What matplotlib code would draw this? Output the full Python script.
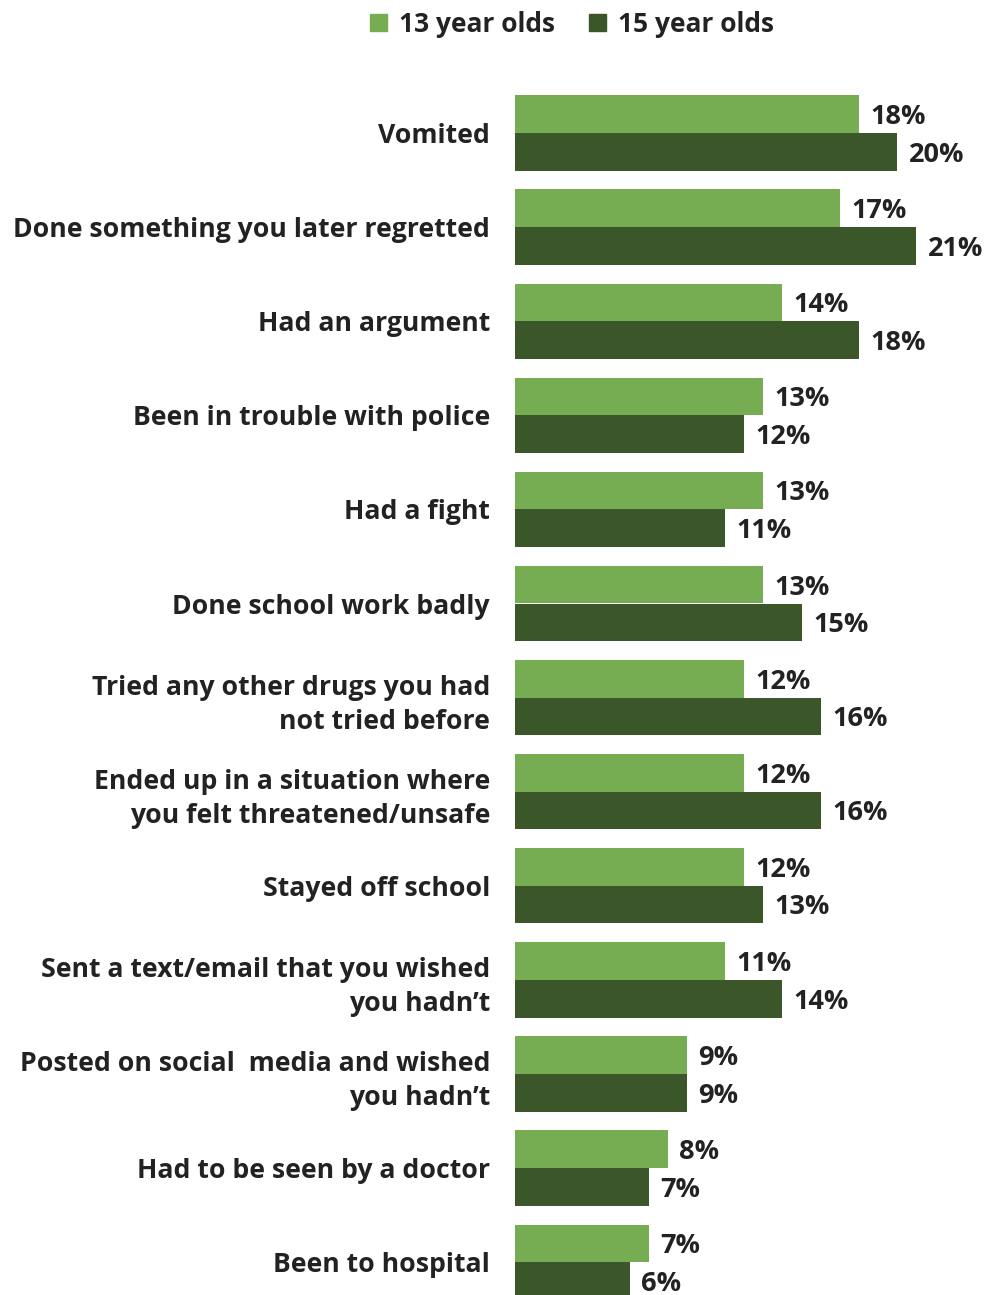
import matplotlib.pyplot as plt
from matplotlib.patches import Patch

# data
categories = [
    "Vomited",
    "Done something you later regretted",
    "Had an argument",
    "Been in trouble with police",
    "Had a fight",
    "Done school work badly",
    "Tried any other drugs you had\nnot tried before",
    "Ended up in a situation where\nyou felt threatened/unsafe",
    "Stayed off school",
    "Sent a text/email that you wished\nyou hadn\u2019t",
    "Posted on social  media and wished\nyou hadn\u2019t",
    "Had to be seen by a doctor",
    "Been to hospital",
]
age13 = [18, 17, 14, 13, 13, 13, 12, 12, 12, 11, 9, 8, 7]
age15 = [20, 21, 18, 12, 11, 15, 16, 16, 13, 14, 9, 7, 6]
series_names = ["13 year olds", "15 year olds"]

light = "#76ad52"
dark = "#3b5628"
txt = "#222222"

plt.rcParams['font.family'] = ['Open Sans', 'DejaVu Sans']

fig = plt.figure(figsize=(9.85, 12.95), dpi=100)
ax = fig.add_axes([515 / 985, 0, 470 / 985, 1235 / 1295])

h = 0.4
ys = list(range(len(categories)))
ax.barh([y - h / 2 for y in ys], age13, height=h, color=light)
ax.barh([y + h / 2 for y in ys], age15, height=h, color=dark)

for y, a, b in zip(ys, age13, age15):
    ax.text(a + 0.6, y - h / 2 + 0.03, f"{a}%", va="center", ha="left",
            fontsize=19.5, fontweight="bold", color=txt)
    ax.text(b + 0.6, y + h / 2 + 0.03, f"{b}%", va="center", ha="left",
            fontsize=19.5, fontweight="bold", color=txt)

ax.set_xlim(0, 470 / 19.1)
ax.set_ylim(1162 / 94.1, -73 / 94.1)
ax.set_yticks(ys)
ax.set_yticklabels(categories, fontsize=19.2, fontweight="bold", color=txt,
                   ha="right", linespacing=1.4)
ax.tick_params(axis="y", length=0, pad=18)
ax.set_xticks([])
for s in ax.spines.values():
    s.set_visible(False)

handles = [Patch(color=light), Patch(color=dark)]
fig.legend(handles, series_names, loc="upper center", ncol=2,
           bbox_to_anchor=(572 / 985, 1.01), frameon=False,
           prop={"size": 19, "weight": "bold"}, labelcolor=txt,
           handlelength=0.65, handleheight=0.65, handletextpad=0.45,
           columnspacing=1.3)

fig.savefig("out.png", dpi=100)
